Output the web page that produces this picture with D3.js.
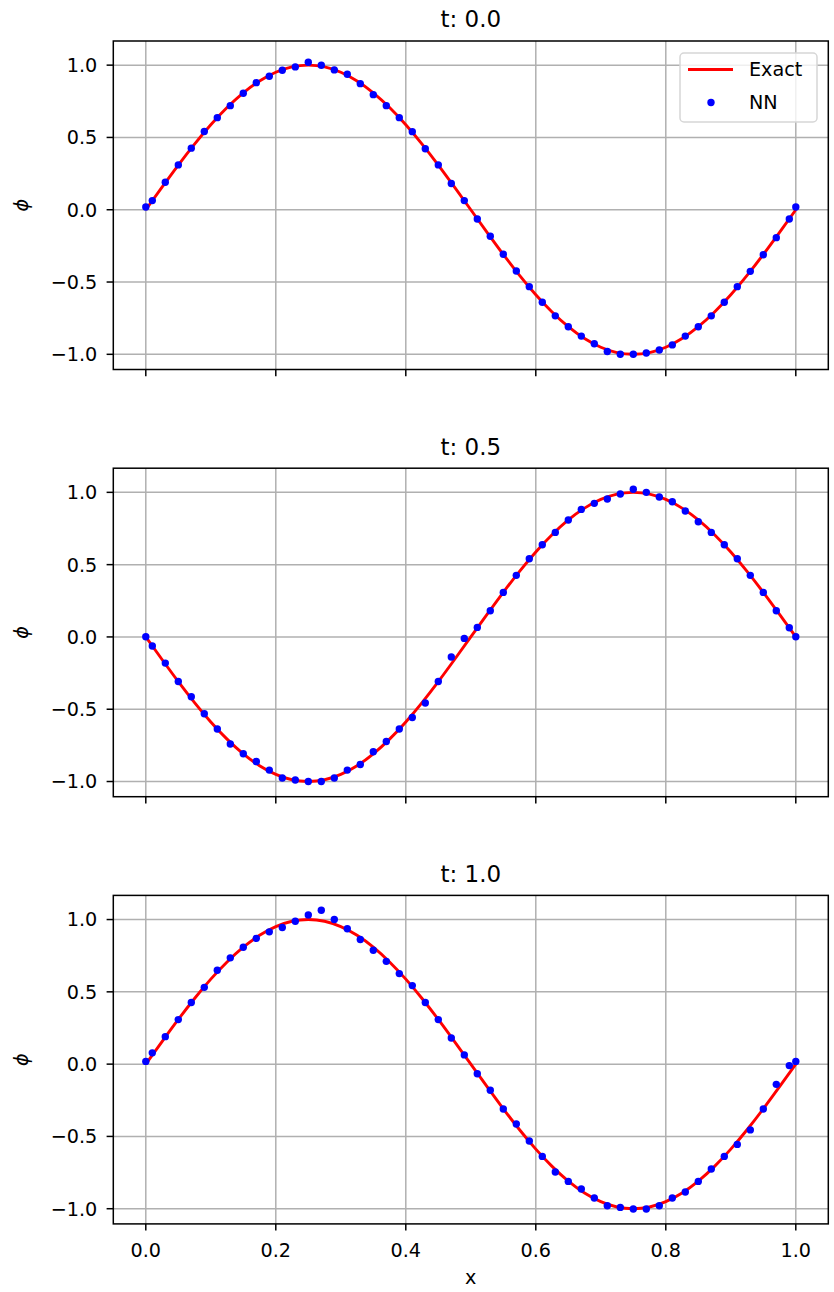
<!DOCTYPE html>
<html lang="en">
<head>
<meta charset="UTF-8">
<title>NN vs Exact</title>
<style>
  body { margin: 0; background: #fff; }
  text { font-family: "DejaVu Sans", sans-serif; fill: #000; }
</style>
</head>
<body>
<script src="https://d3js.org/d3.v7.min.js"></script>
<script>
// panel titles
var times = ["t: 0.0", "t: 0.5", "t: 1.0"];

// sample positions of NN points
var xs = [0, 0.01, 0.03, 0.05, 0.07, 0.09, 0.11, 0.13, 0.15, 0.17, 0.19, 0.21, 0.23, 0.25, 0.27, 0.29, 0.31, 0.33, 0.35, 0.37, 0.39, 0.41, 0.43, 0.45, 0.47, 0.49,
          0.51, 0.53, 0.55, 0.57, 0.59, 0.61, 0.63, 0.65, 0.67, 0.69, 0.71, 0.73, 0.75, 0.77, 0.79, 0.81, 0.83, 0.85, 0.87, 0.89, 0.91, 0.93, 0.95, 0.97, 0.99, 1.0];

// NN predictions
var nn0 = [0.019, 0.063, 0.190, 0.310, 0.426, 0.541, 0.637, 0.720, 0.806, 0.879, 0.923, 0.965, 0.988, 1.020, 0.999, 0.967, 0.937, 0.872, 0.796, 0.720, 0.637, 0.540, 0.422, 0.310, 0.181, 0.063,
           -0.064, -0.183, -0.308, -0.424, -0.532, -0.640, -0.734, -0.809, -0.874, -0.927, -0.980, -1.0, -1.0, -0.991, -0.970, -0.935, -0.874, -0.809, -0.734, -0.640, -0.532, -0.426, -0.311, -0.193, -0.064, 0.019];
var nn05 = [0.001, -0.063, -0.181, -0.308, -0.414, -0.531, -0.637, -0.741, -0.808, -0.862, -0.921, -0.976, -0.990, -1.0, -1.0, -0.976, -0.921, -0.882, -0.794, -0.723, -0.637, -0.557, -0.457, -0.308, -0.139, -0.010,
            0.066, 0.181, 0.308, 0.426, 0.541, 0.638, 0.723, 0.809, 0.882, 0.924, 0.954, 0.989, 1.021, 1.0, 0.968, 0.935, 0.871, 0.797, 0.723, 0.638, 0.541, 0.426, 0.308, 0.181, 0.064, 0.001];
var nn1 = [0.019, 0.078, 0.190, 0.308, 0.426, 0.531, 0.649, 0.735, 0.808, 0.870, 0.915, 0.945, 0.988, 1.032, 1.064, 1.0, 0.936, 0.862, 0.788, 0.711, 0.626, 0.543, 0.426, 0.308, 0.181, 0.064,
           -0.066, -0.181, -0.310, -0.414, -0.532, -0.638, -0.746, -0.811, -0.864, -0.926, -0.979, -0.991, -1.002, -1.002, -0.979, -0.926, -0.884, -0.811, -0.725, -0.638, -0.555, -0.455, -0.310, -0.140, -0.010, 0.019];

// exact solution, sampled finely
var exactX = [0, 0.025, 0.05, 0.075, 0.1, 0.125, 0.15, 0.175, 0.2, 0.225, 0.25, 0.275, 0.3, 0.325, 0.35, 0.375, 0.4, 0.425, 0.45, 0.475, 0.5,
              0.525, 0.55, 0.575, 0.6, 0.625, 0.65, 0.675, 0.7, 0.725, 0.75, 0.775, 0.8, 0.825, 0.85, 0.875, 0.9, 0.925, 0.95, 0.975, 1.0];
var exact0 = [0, 0.156, 0.309, 0.454, 0.588, 0.707, 0.809, 0.891, 0.951, 0.988, 1, 0.988, 0.951, 0.891, 0.809, 0.707, 0.588, 0.454, 0.309, 0.156, 0,
              -0.156, -0.309, -0.454, -0.588, -0.707, -0.809, -0.891, -0.951, -0.988, -1, -0.988, -0.951, -0.891, -0.809, -0.707, -0.588, -0.454, -0.309, -0.156, 0];
var exact05 = [0, -0.156, -0.309, -0.454, -0.588, -0.707, -0.809, -0.891, -0.951, -0.988, -1, -0.988, -0.951, -0.891, -0.809, -0.707, -0.588, -0.454, -0.309, -0.156, 0,
               0.156, 0.309, 0.454, 0.588, 0.707, 0.809, 0.891, 0.951, 0.988, 1, 0.988, 0.951, 0.891, 0.809, 0.707, 0.588, 0.454, 0.309, 0.156, 0];
var exact1 = [0, 0.156, 0.309, 0.454, 0.588, 0.707, 0.809, 0.891, 0.951, 0.988, 1, 0.988, 0.951, 0.891, 0.809, 0.707, 0.588, 0.454, 0.309, 0.156, 0,
              -0.156, -0.309, -0.454, -0.588, -0.707, -0.809, -0.891, -0.951, -0.988, -1, -0.988, -0.951, -0.891, -0.809, -0.707, -0.588, -0.454, -0.309, -0.156, 0];

var xTicks = [0, 0.2, 0.4, 0.6, 0.8, 1.0];
var yTicks = [-1, -0.5, 0, 0.5, 1];

var panels = [
  { title: times[0], nn: nn0, exact: exact0 },
  { title: times[1], nn: nn05, exact: exact05 },
  { title: times[2], nn: nn1, exact: exact1 }
];

var W = 834, H = 1292;
var left = 113.3, right = 828.3;
var top0 = 41, panelH = 328.5, step = 427.2;
var fs = 19.2;

var svg = d3.select("body").append("svg")
    .attr("width", W)
    .attr("height", H);

var x = d3.scaleLinear().domain([-0.05, 1.05]).range([left, right]);
var fmt = function(v) { return d3.format(".1f")(v).replace("-", "\u2212"); };

panels.forEach(function(p, i) {
  var top = top0 + i * step, bottom = top + panelH;
  var y = d3.scaleLinear().domain([-1.105, 1.167]).range([bottom, top]);
  var g = svg.append("g");

  // grid
  g.selectAll(".gx").data(xTicks).enter().append("line")
    .attr("x1", function(d) { return x(d); }).attr("x2", function(d) { return x(d); })
    .attr("y1", top).attr("y2", bottom)
    .attr("stroke", "#b0b0b0").attr("stroke-width", 1.5);
  g.selectAll(".gy").data(yTicks).enter().append("line")
    .attr("x1", left).attr("x2", right)
    .attr("y1", function(d) { return y(d); }).attr("y2", function(d) { return y(d); })
    .attr("stroke", "#b0b0b0").attr("stroke-width", 1.5);

  // exact line
  var line = d3.line()
    .x(function(d, j) { return x(exactX[j]); })
    .y(function(d) { return y(d); })
    .curve(d3.curveNatural);
  g.append("path").datum(p.exact)
    .attr("d", line)
    .attr("fill", "none").attr("stroke", "red").attr("stroke-width", 2.9);

  // NN points
  g.selectAll(".pt").data(p.nn).enter().append("circle")
    .attr("cx", function(d, j) { return x(xs[j]); })
    .attr("cy", function(d) { return y(d); })
    .attr("r", 3.7)
    .attr("fill", "blue");

  // frame
  g.append("rect")
    .attr("x", left).attr("y", top)
    .attr("width", right - left).attr("height", panelH)
    .attr("fill", "none").attr("stroke", "#000").attr("stroke-width", 1.5);

  // ticks
  g.selectAll(".tx").data(xTicks).enter().append("line")
    .attr("x1", function(d) { return x(d); }).attr("x2", function(d) { return x(d); })
    .attr("y1", bottom).attr("y2", bottom + 6.7)
    .attr("stroke", "#000").attr("stroke-width", 1.5);
  g.selectAll(".ty").data(yTicks).enter().append("line")
    .attr("x1", left - 6.7).attr("x2", left)
    .attr("y1", function(d) { return y(d); }).attr("y2", function(d) { return y(d); })
    .attr("stroke", "#000").attr("stroke-width", 1.5);

  g.selectAll(".ly").data(yTicks).enter().append("text")
    .attr("x", left - 16)
    .attr("y", function(d) { return y(d); })
    .attr("dy", "0.36em")
    .attr("text-anchor", "end")
    .style("font-size", fs + "px")
    .text(fmt);

  if (i == 2) {
    g.selectAll(".lx").data(xTicks).enter().append("text")
      .attr("x", function(d) { return x(d); })
      .attr("y", bottom + 33.5)
      .attr("text-anchor", "middle")
      .style("font-size", fs + "px")
      .text(fmt);
    svg.append("text")
      .attr("x", (left + right) / 2).attr("y", bottom + 60)
      .attr("text-anchor", "middle")
      .style("font-size", fs + "px")
      .text("x");
  }

  // title
  svg.append("text")
    .attr("x", (left + right) / 2).attr("y", top - 13.7)
    .attr("text-anchor", "middle")
    .style("font-size", "23px")
    .text(p.title);

  // y label
  svg.append("text")
    .attr("transform", "translate(28," + (top + panelH / 2) + ") rotate(-90)")
    .attr("text-anchor", "middle")
    .style("font-size", fs + "px")
    .style("font-style", "italic")
    .text("\u03d5");
});

// legend (first panel)
var lg = svg.append("g");
lg.append("rect")
  .attr("x", 680).attr("y", 53).attr("width", 137).attr("height", 69)
  .attr("rx", 4).attr("fill", "#fff").attr("fill-opacity", 0.8)
  .attr("stroke", "#d6d6d6").attr("stroke-width", 1.5);
lg.append("line")
  .attr("x1", 688).attr("x2", 733).attr("y1", 69.5).attr("y2", 69.5)
  .attr("stroke", "red").attr("stroke-width", 2.9);
lg.append("circle").attr("cx", 711).attr("cy", 102.5).attr("r", 3.7).attr("fill", "blue");
lg.append("text").attr("x", 749).attr("y", 69.5).attr("dy", "0.36em")
  .style("font-size", fs + "px").text("Exact");
lg.append("text").attr("x", 749).attr("y", 102.5).attr("dy", "0.36em")
  .style("font-size", fs + "px").text("NN");
</script>
</body>
</html>
